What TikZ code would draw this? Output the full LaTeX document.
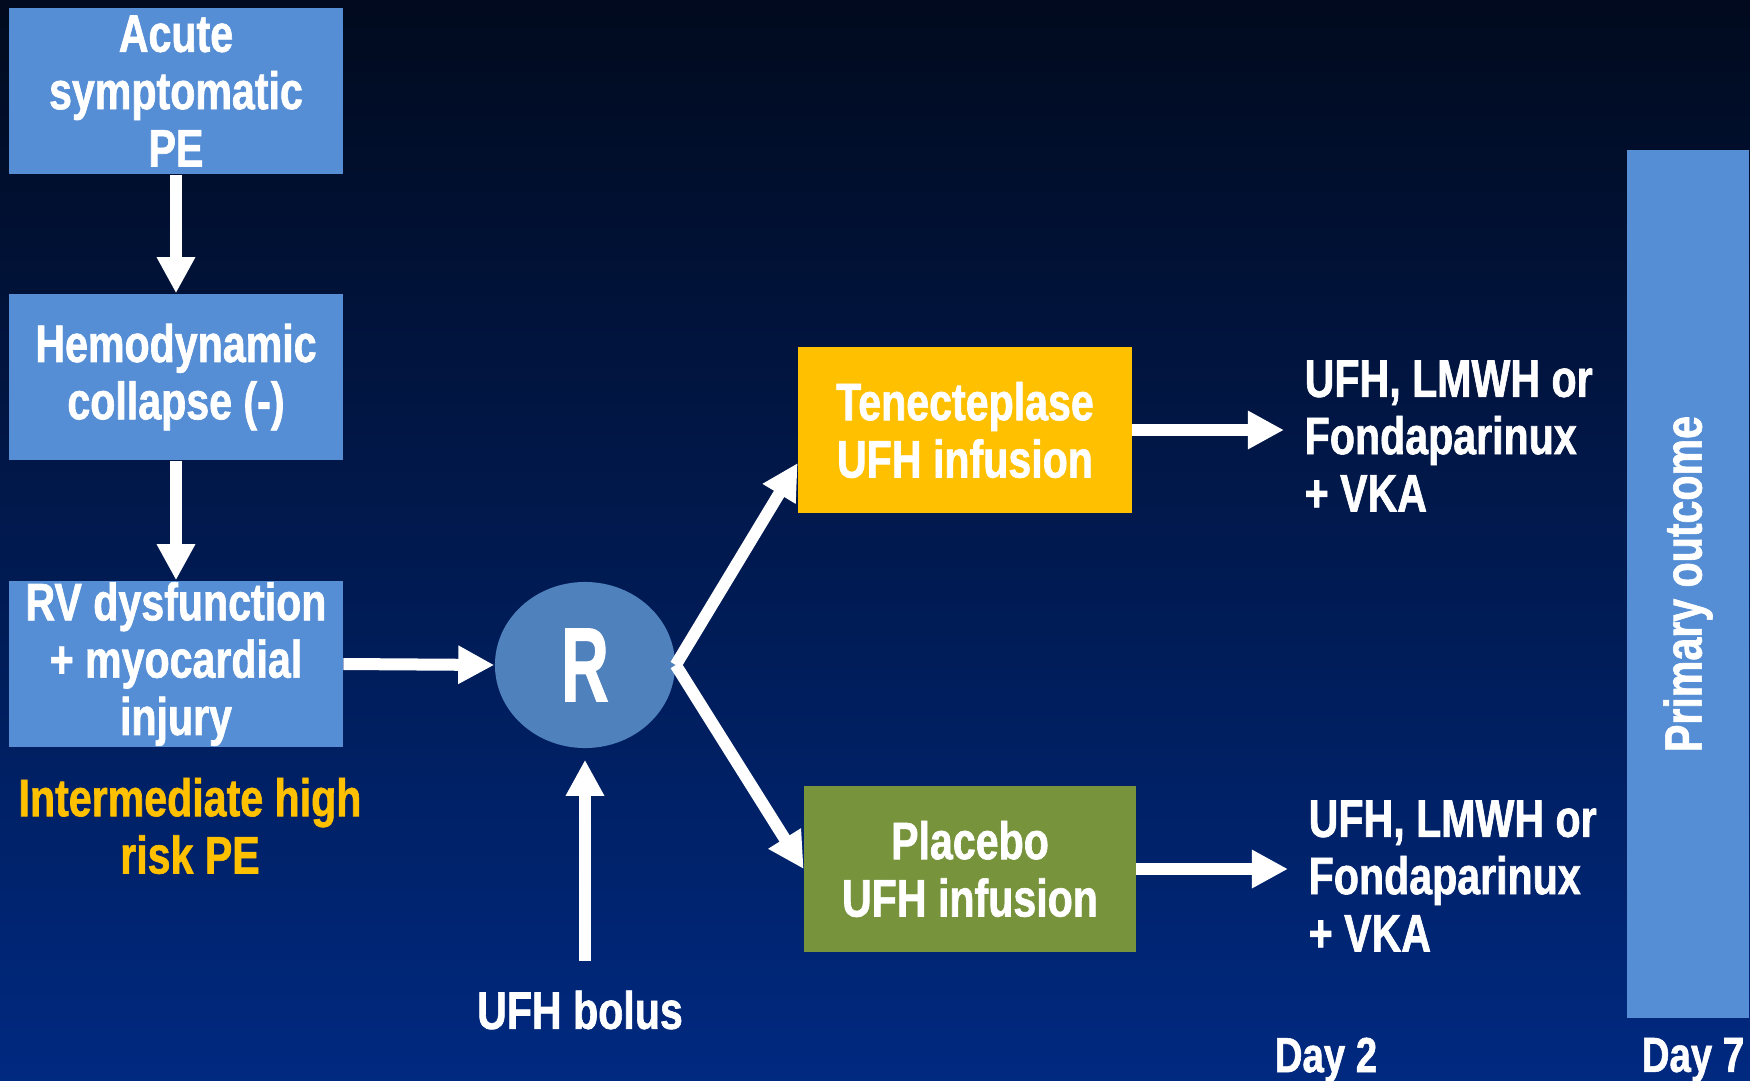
\documentclass[tikz,border=0pt]{standalone}
\usepackage{fontspec}
\setmainfont{Liberation Sans}[FakeStretch=0.78, BoldFeatures={FakeBold=1.2}]
\usetikzlibrary{arrows.meta,shapes.geometric}

\definecolor{bgtop}{RGB}{1,10,30}
\definecolor{bgmid}{RGB}{1,33,105}
\definecolor{bgbot}{RGB}{0,41,128}
\definecolor{boxblue}{RGB}{85,142,213}
\definecolor{circblue}{RGB}{79,129,189}
\definecolor{tenyellow}{RGB}{255,192,0}
\definecolor{placgreen}{RGB}{119,147,60}

\begin{document}
\begin{tikzpicture}
        [x=0.01cm, y=-0.01cm,
        box/.style={rectangle, fill=boxblue, text=white, align=center, inner sep=0pt,
                minimum width=3.33cm, minimum height=1.66cm,
                font=\fontsize{15}{16.3}\selectfont\bfseries},
        txt/.style={text=white, align=center, inner sep=0pt,
                font=\fontsize{15}{16.3}\selectfont\bfseries},
        arrow/.style={white, line width=0.12cm, -{Triangle[length=0.36cm, width=0.36cm]}}]

        % background
        \useasboundingbox (0,0) rectangle (1750,1081);
        \shade[top color=bgtop, middle color=bgmid, bottom color=bgbot] (0,0) rectangle (1750,1081);

        % screening boxes
        \node[box] (acute) at (176,91) {Acute\\symptomatic\\PE};
        \node[box] (hemo) at (176,377) {Hemodynamic\\collapse (-)};
        \node[box] (rv) at (176,664) {RV dysfunction\\+ myocardial\\injury};
        \node[txt, text=tenyellow] (risk) at (190,826) {Intermediate high\\risk PE};

        % randomisation
        \node[ellipse, fill=circblue, text=white, inner sep=0pt, minimum width=1.8cm,
                minimum height=1.66cm, font=\fontsize{30}{32}\selectfont\bfseries] (R) at (585,665) {\scalebox{0.8}[1]{R}};
        \node[txt] (bolus) at (580,1010) {UFH bolus};

        % study arms
        \node[box, fill=tenyellow] (ten) at (965,430) {Tenecteplase\\UFH infusion};
        \node[box, fill=placgreen, minimum width=3.31cm, minimum height=1.65cm] (plac) at (970,869) {Placebo\\UFH infusion};
        \node[txt, align=left, anchor=west] (tenrx) at (1304,436) {UFH, LMWH or\\Fondaparinux\\+ VKA};
        \node[txt, align=left, anchor=west] (placrx) at (1308,876) {UFH, LMWH or\\Fondaparinux\\+ VKA};

        % outcome
        \node[box, rotate=90, minimum width=8.67cm, minimum height=1.21cm,
                font=\fontsize{15}{16}\selectfont\bfseries] (outcome) at (1688,584) {Primary outcome};
        \node[txt, font=\fontsize{14}{16}\selectfont\bfseries] (day2) at (1326,1060) {Day 2};
        \node[txt, font=\fontsize{14}{16}\selectfont\bfseries] (day7) at (1693,1060) {Day 7};

        % arrows
        \draw[arrow] (acute) -- (hemo);
        \draw[arrow] (hemo) -- (rv);
        \draw[arrow] (rv.east) -- (R.west);
        \draw[arrow, shorten <=0.29cm, shorten >=0.11cm] (R |- bolus.north) -- (R.south);
        \draw[arrow] (R.east) -- ([yshift=-0.33cm]ten.west);
        \draw[arrow] (R.east) -- (plac.west);
        \draw[arrow, shorten >=0.2cm] (ten.east) -- (ten.east -| tenrx.west);
        \draw[arrow, shorten >=0.2cm] (plac.east) -- (plac.east -| placrx.west);

    \end{tikzpicture}
\end{document}
